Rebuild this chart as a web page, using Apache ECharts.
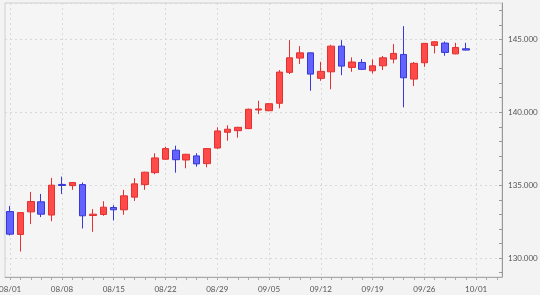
<!DOCTYPE html>
<html>
<head>
<meta charset="utf-8">
<script src="https://cdn.jsdelivr.net/npm/echarts@6/dist/echarts.min.js"></script>
<style>
html,body{margin:0;padding:0;background:#f3f3f3;}
#c{width:540px;height:295px;}
</style>
</head>
<body>
<div id="c"></div>
<script>
const dates = ['08/01','08/02','08/03','08/04','08/05','08/08','08/09','08/10','08/11','08/12',
  '08/15','08/16','08/17','08/18','08/19','08/22','08/23','08/24','08/25','08/26',
  '08/29','08/30','08/31','09/01','09/02','09/05','09/06','09/07','09/08','09/09',
  '09/12','09/13','09/14','09/15','09/16','09/19','09/20','09/21','09/22','09/23',
  '09/26','09/27','09/28','09/29','09/30','10/01','10/02','10/03'];
const opens  = [133.19,131.62,133.17,133.86,132.95,135.05,134.97,135.04,132.92,132.99,
  133.47,133.31,134.18,135.04,135.86,136.78,137.40,136.73,137.01,136.48,
  137.55,138.63,138.74,138.88,140.16,140.11,140.62,142.74,143.72,144.08,
  142.33,142.78,144.54,143.08,143.42,142.85,143.19,143.65,143.97,142.28,
  143.40,144.59,144.75,144.01,144.36];
const closes = [131.64,133.12,133.88,133.01,135.00,134.98,135.18,132.90,133.01,133.49,
  133.31,134.27,135.09,135.89,136.87,137.51,136.75,137.12,136.46,137.51,
  138.72,138.84,138.97,140.21,140.23,140.59,142.76,143.74,144.08,142.62,
  142.81,144.54,143.17,143.45,142.95,143.19,143.74,144.04,142.37,143.36,
  144.73,144.84,144.11,144.45,144.27];
const lows   = [131.55,130.45,132.33,132.81,132.53,134.40,134.68,132.03,131.80,132.90,
  132.58,132.97,133.92,134.68,135.75,136.75,135.86,136.16,136.27,136.23,
  137.50,138.05,138.26,138.85,139.88,140.08,140.27,142.62,143.31,141.48,
  142.16,141.58,142.55,142.78,142.90,142.67,142.90,143.36,140.34,141.80,
  143.12,144.04,143.88,143.98,144.25];
const highs  = [133.58,133.15,134.54,134.40,135.50,135.59,135.22,135.18,133.36,133.90,
  133.63,134.68,135.48,135.92,137.19,137.64,137.71,137.15,137.19,137.55,
  138.97,139.11,139.00,140.25,140.79,140.62,142.90,144.95,144.54,144.10,
  143.47,144.63,144.95,143.77,143.65,143.63,143.86,144.68,145.91,143.45,
  144.75,144.88,144.86,144.77,144.77];
const yLabels = [130, 135, 140, 145];
const yMinorTicks = [129,130,131,132,133,134,135,136,137,138,139,140,141,142,143,144,145,146,147];
const yMin = 128.7, yMax = 147.5;

const candles = opens.map((o, i) => [o, closes[i], lows[i], highs[i]]);
const halfSteps = Array.from({length: dates.length * 2 + 1}, (_, i) => String(i));

const chart = echarts.init(document.getElementById('c'), null, {renderer: 'canvas'});
chart.setOption({
  backgroundColor: '#f3f3f3',
  animation: false,
  textStyle: {fontFamily: 'Lato'},
  grid: {left: 5, right: 38, top: 3, bottom: 18, show: true, borderColor: '#d0d0d0', borderWidth: 1, backgroundColor: '#f5f5f5', outerBoundsMode: 'none', containLabel: false},
  xAxis: [{
    type: 'category',
    data: dates,
    boundaryGap: true,
    axisLine: {show: true, lineStyle: {color: '#aaaaaa'}},
    axisTick: {show: true, alignWithLabel: true, interval: 0, length: 3, lineStyle: {color: '#aaaaaa'}},
    axisLabel: {interval: 4, fontSize: 8, color: '#555555', margin: 8, fontFamily: 'Lato', alignMinLabel: 'center', alignMaxLabel: 'center'},
    splitLine: {show: false}
  }, {
    type: 'category',
    data: halfSteps,
    boundaryGap: false,
    position: 'bottom',
    axisLine: {show: false},
    axisTick: {show: false},
    axisLabel: {show: false},
    splitLine: {show: true, interval: (idx) => idx % 10 === 1, lineStyle: {color: '#d8d8d8', type: [2, 3]}}
  }],
  yAxis: [{
    type: 'value',
    position: 'right',
    min: yMin, max: yMax,
    axisLine: {show: true, lineStyle: {color: '#999999'}},
    axisTick: {show: true, inside: true, length: 3, customValues: yMinorTicks, lineStyle: {color: '#999999'}},
    axisLabel: {customValues: yLabels, formatter: v => v.toFixed(3), fontSize: 8, color: '#555555', margin: 6, fontFamily: 'Lato'},
    splitLine: {show: false}
  }, {
    type: 'value',
    position: 'right',
    min: yMin, max: yMax,
    splitNumber: 4,
    axisLine: {show: false},
    axisTick: {show: false},
    axisLabel: {show: false},
    splitLine: {show: true, lineStyle: {color: '#d8d8d8', type: [2, 3]}}
  }],
  series: [{
    type: 'candlestick',
    xAxisIndex: 0,
    yAxisIndex: 0,
    data: candles,
    barWidth: 7,
    itemStyle: {
      color: '#ff4a4a', color0: '#6262ff',
      borderColor: '#e33030', borderColor0: '#3838d4',
      borderWidth: 1
    }
  }]
});
</script>
</body>
</html>
